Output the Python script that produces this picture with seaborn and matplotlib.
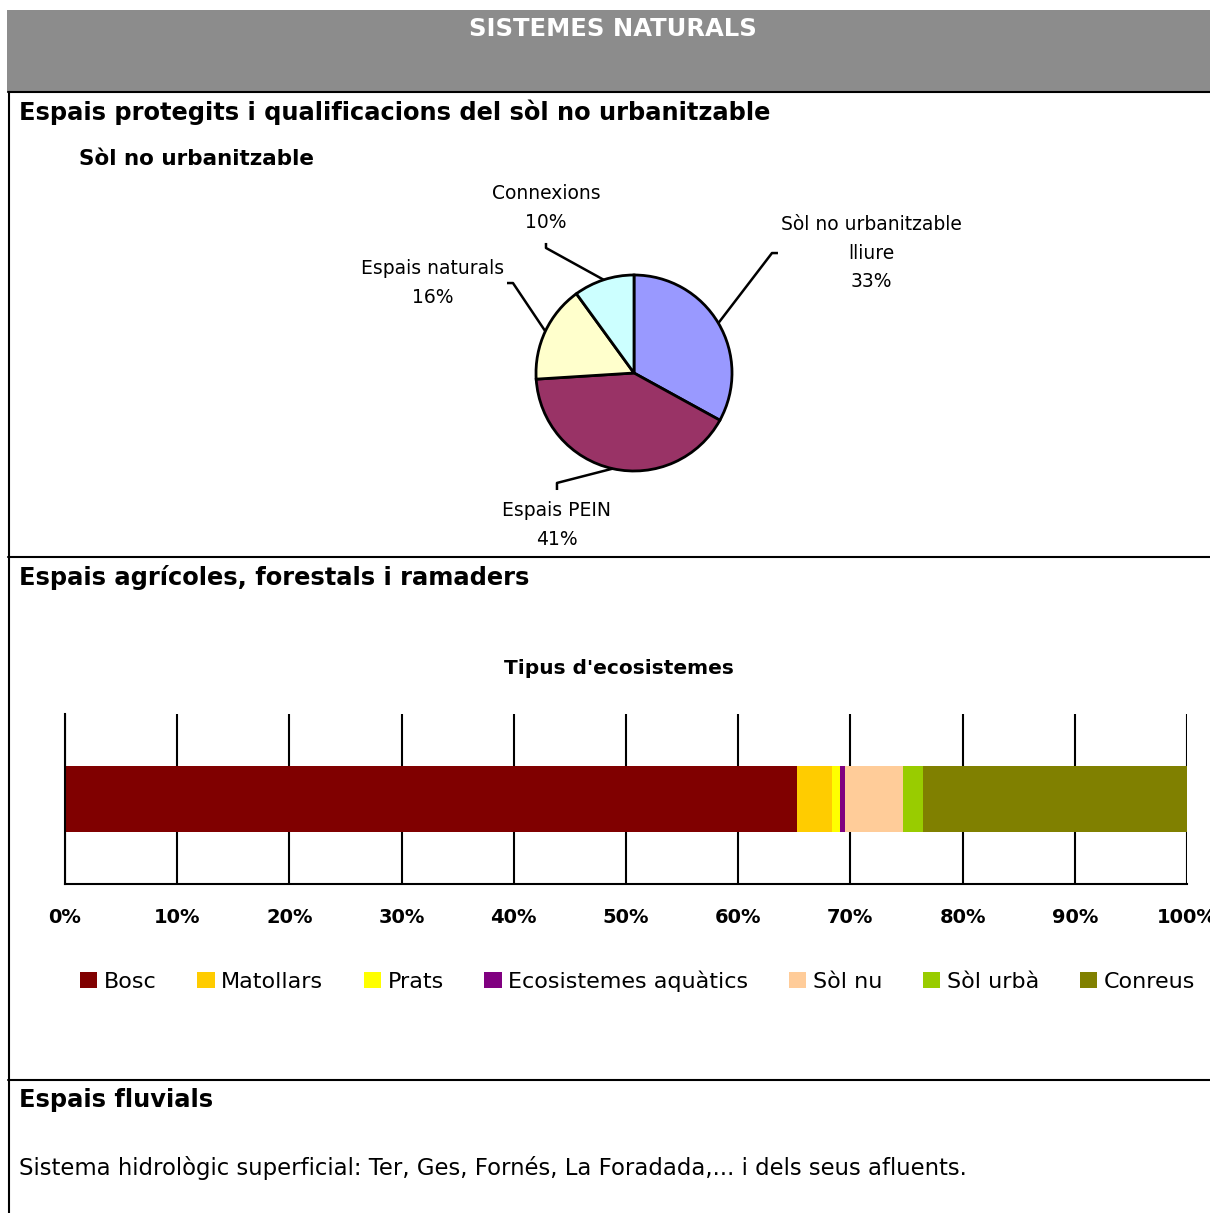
import numpy as np
import pandas as pd
import matplotlib
matplotlib.use("Agg")
import matplotlib.pyplot as plt
import seaborn as sns
from matplotlib.lines import Line2D
from matplotlib.patches import Rectangle, Patch

# Pie data: Sòl no urbanitzable
pie_labels = ["Sòl no urbanitzable\nlliure", "Espais PEIN", "Espais naturals", "Connexions"]
pie_values = [33, 41, 16, 10]
pie_colors = ["#9999FF", "#993366", "#FFFFCC", "#CCFFFF"]

# Bar data: Tipus d'ecosistemes (%)
eco_names = ["Bosc", "Matollars", "Prats", "Ecosistemes aquàtics", "Sòl nu", "Sòl urbà", "Conreus"]
eco_values = [65.2, 3.2, 0.7, 0.4, 5.2, 1.8, 23.5]
eco_colors = ["#800000", "#FFCC00", "#FFFF00", "#800080", "#FFCC99", "#99CC00", "#808000"]
x_ticks = list(range(0, 101, 10))
x_ticklabels = [f"{t}%" for t in x_ticks]

W, H = 1210, 1213

sns.set_style("white")
plt.rcParams["font.family"] = ["DejaVu Sans"]
plt.rcParams["text.color"] = "black"
plt.rcParams["xtick.color"] = "black"
plt.rcParams["ytick.color"] = "black"

fig = plt.figure(figsize=(W / 100, H / 100), dpi=100)


def fx(x):
    return x / W


def fy(y):
    return 1 - y / H


def hline(y, x0=8, x1=W):
    fig.add_artist(Line2D([fx(x0), fx(x1)], [fy(y), fy(y)], transform=fig.transFigure,
                          color="black", lw=1.5))


# Header band
fig.add_artist(Rectangle((fx(7), fy(92)), (W - 7) / W, 82 / H, transform=fig.transFigure,
                         facecolor="#8C8C8C", edgecolor="none"))
fig.text(fx(613), fy(29), "SISTEMES NATURALS", color="white", fontsize=17.5,
         fontweight="bold", ha="center", va="center")

# Frame lines
hline(92)
hline(557)
hline(1080)
fig.add_artist(Line2D([fx(9), fx(9)], [fy(92), 0], transform=fig.transFigure, color="black", lw=1.5))

# Section headings
head_kw = dict(fontsize=17.4, fontweight="bold", ha="left", va="center")
fig.text(fx(19), fy(112), "Espais protegits i qualificacions del sòl no urbanitzable", **head_kw)
fig.text(fx(79), fy(159), "Sòl no urbanitzable", fontsize=15.5, fontweight="bold", ha="left", va="center")
fig.text(fx(19), fy(577), "Espais agrícoles, forestals i ramaders", **head_kw)
fig.text(fx(619), fy(668), "Tipus d'ecosistemes", fontsize=14.5, fontweight="bold", ha="center", va="center")
fig.text(fx(19), fy(1100), "Espais fluvials", **head_kw)
fig.text(fx(19), fy(1168), "Sistema hidrològic superficial: Ter, Ges, Fornés, La Foradada,... i dels seus afluents.",
         fontsize=16.4, ha="left", va="center")

# ---- Pie chart ----
cx, cy, r = 634, 373, 98
box = r * 1.25
ax_pie = fig.add_axes([fx(cx - box), fy(cy + box), 2 * box / W, 2 * box / H])
wedges, _ = ax_pie.pie(pie_values, colors=pie_colors, startangle=90, counterclock=False,
                       wedgeprops=dict(edgecolor="black", linewidth=2))
ax_pie.set_xlim(-1.25, 1.25)
ax_pie.set_ylim(-1.25, 1.25)
ax_pie.axis("off")

# label anchors and leader elbows (pie data units)
label_pos = [(2.418, 1.224), (-0.786, -1.551), (-2.051, 0.918), (-0.898, 1.684)]
elbows = [
    [(1.469, 1.224), (1.408, 1.224)],
    [(-0.786, -1.194), (-0.786, -1.122)],
    [(-1.296, 0.918), (-1.235, 0.918)],
    [(-0.898, 1.327), (-0.898, 1.276)],
]
for w, lab, val, pos, elb in zip(wedges, pie_labels, pie_values, label_pos, elbows):
    ang = np.deg2rad((w.theta1 + w.theta2) / 2)
    pts = elb + [(np.cos(ang), np.sin(ang))]
    ax_pie.plot([p[0] for p in pts], [p[1] for p in pts], color="black", lw=1.8,
                clip_on=False, solid_capstyle="butt")
    ax_pie.text(pos[0], pos[1], f"{lab}\n{val}%", ha="center", va="center",
                fontsize=13.5, linespacing=1.65, clip_on=False)

# ---- Stacked horizontal bar ----
ax_bar = fig.add_axes([fx(65), fy(884), 1122 / W, 170 / H])
df = pd.DataFrame({"eco": eco_names, "pct": eco_values, "color": eco_colors})
df["cum"] = df["pct"].cumsum()
for _, row in df.iloc[::-1].iterrows():
    sns.barplot(x=[row["cum"]], y=["Tipus"], color=row["color"], saturation=1,
                width=0.394, linewidth=0, orient="y", ax=ax_bar)

ax_bar.set_xlim(0, 100)
ax_bar.set_ylim(0.5, -0.5)
ax_bar.set_xticks(x_ticks)
ax_bar.set_xticklabels(x_ticklabels, fontsize=14, fontweight="bold")
ax_bar.set_yticks([-0.5, 0.5])
ax_bar.set_yticklabels([])
ax_bar.set_xlabel("")
ax_bar.set_ylabel("")
ax_bar.grid(axis="x", color="black", lw=1.5)
ax_bar.grid(axis="y", visible=False)
ax_bar.tick_params(axis="both", direction="out", length=5, width=1.5, color="black")
ax_bar.tick_params(axis="x", pad=12.5)
for side in ["top", "right"]:
    ax_bar.spines[side].set_visible(False)
for side in ["left", "bottom"]:
    ax_bar.spines[side].set_color("black")
    ax_bar.spines[side].set_linewidth(1.5)

# Legend
handles = [Patch(facecolor=c, edgecolor="none", label=n) for n, c in zip(eco_names, eco_colors)]
fig.legend(handles=handles, ncol=len(handles), loc="center left",
           bbox_to_anchor=(fx(80), fy(981)), frameon=False, fontsize=16,
           handlelength=0.78, handleheight=0.78, handletextpad=0.3,
           columnspacing=1.82, borderpad=0, borderaxespad=0)

fig.savefig("out.png", dpi=100)
